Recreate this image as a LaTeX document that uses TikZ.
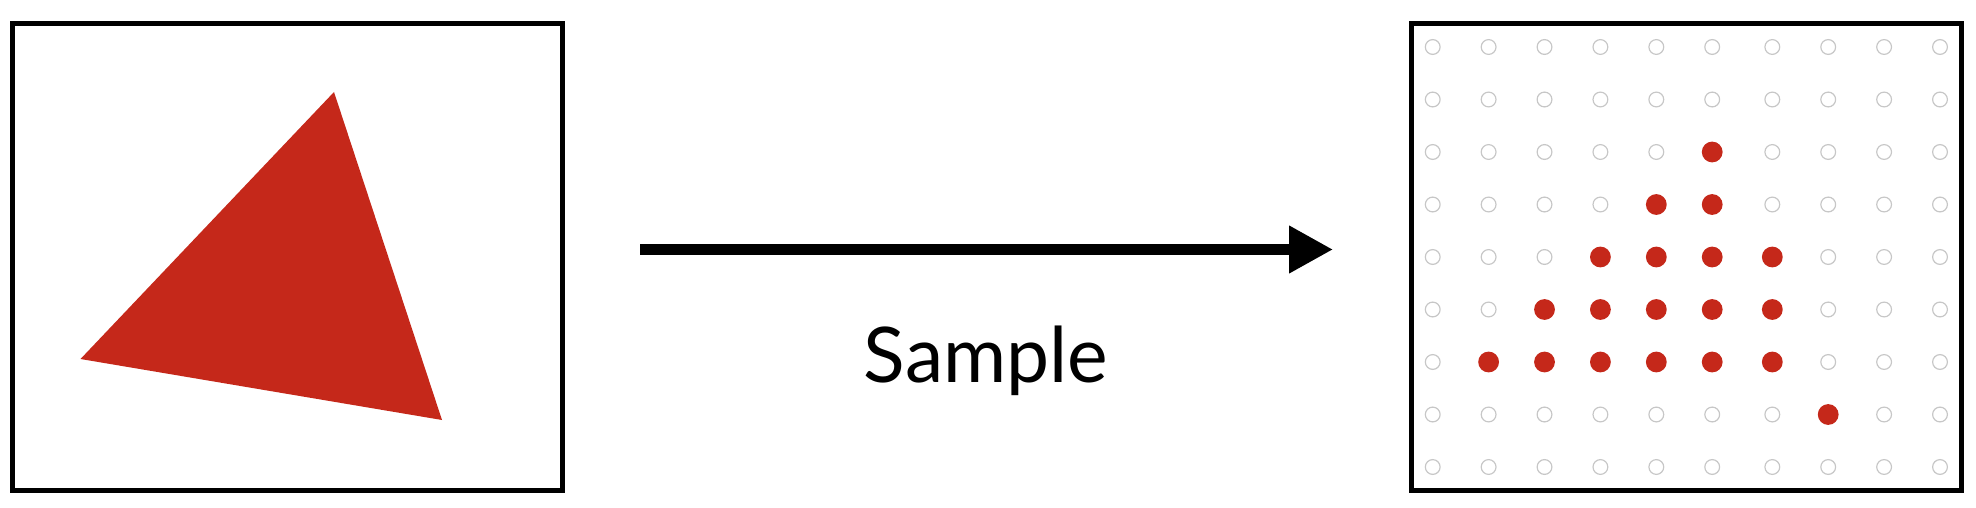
\documentclass[tikz,border=0pt]{standalone}
\usepackage{fontspec}
\setmainfont{Lato}
\usetikzlibrary{arrows.meta}
\definecolor{samplered}{RGB}{197,40,26}

\begin{document}
\begin{tikzpicture}[
  x=0.5pt, y=-0.5pt,
  frame/.style={draw, line width=2.5pt, inner sep=0pt, outer sep=0pt,
    minimum height=233pt},
  hole/.style={draw=black!22, line width=0.6pt},
  hit/.style={fill=samplered},
  arrow/.style={-{Triangle[length=22pt, width=22.5pt]}, line width=5.25pt}
]
  \useasboundingbox (0,0) rectangle (1976,508);

  % input image and sample grid
  \node[frame, minimum width=274.75pt] (img) at (287.25,257) {};
  \node[frame, minimum width=275.1pt] (grid) at (1686.6,257) {};
  \fill[samplered] (334,92) -- (80.5,359) -- (442,420) -- cycle;

  % sample positions
  \foreach \c in {0,...,9}
    \foreach \r in {0,...,8}
      \draw[hole] ({1432.7+55.9*\c+4.2*(\c>5)},{47+52.5*\r}) circle[radius=3.7pt];
  \foreach \c/\r in {5/2, 4/3, 5/3, 3/4, 4/4, 5/4, 6/4,
                     2/5, 3/5, 4/5, 5/5, 6/5,
                     1/6, 2/6, 3/6, 4/6, 5/6, 6/6, 7/7}
    \fill[hit] ({1432.7+55.9*\c+4.2*(\c>5)},{47+52.5*\r}) circle[radius=5.2pt];

  \coordinate (src) at (640,249.5);
  \coordinate (dst) at (1333,249.5);
  \draw[arrow] (src) -- (dst);
  \node[font=\fontsize{38.4pt}{46pt}\selectfont, anchor=base, inner sep=0pt]
    (lbl) at (986,382) {Sample};
\end{tikzpicture}
\end{document}
